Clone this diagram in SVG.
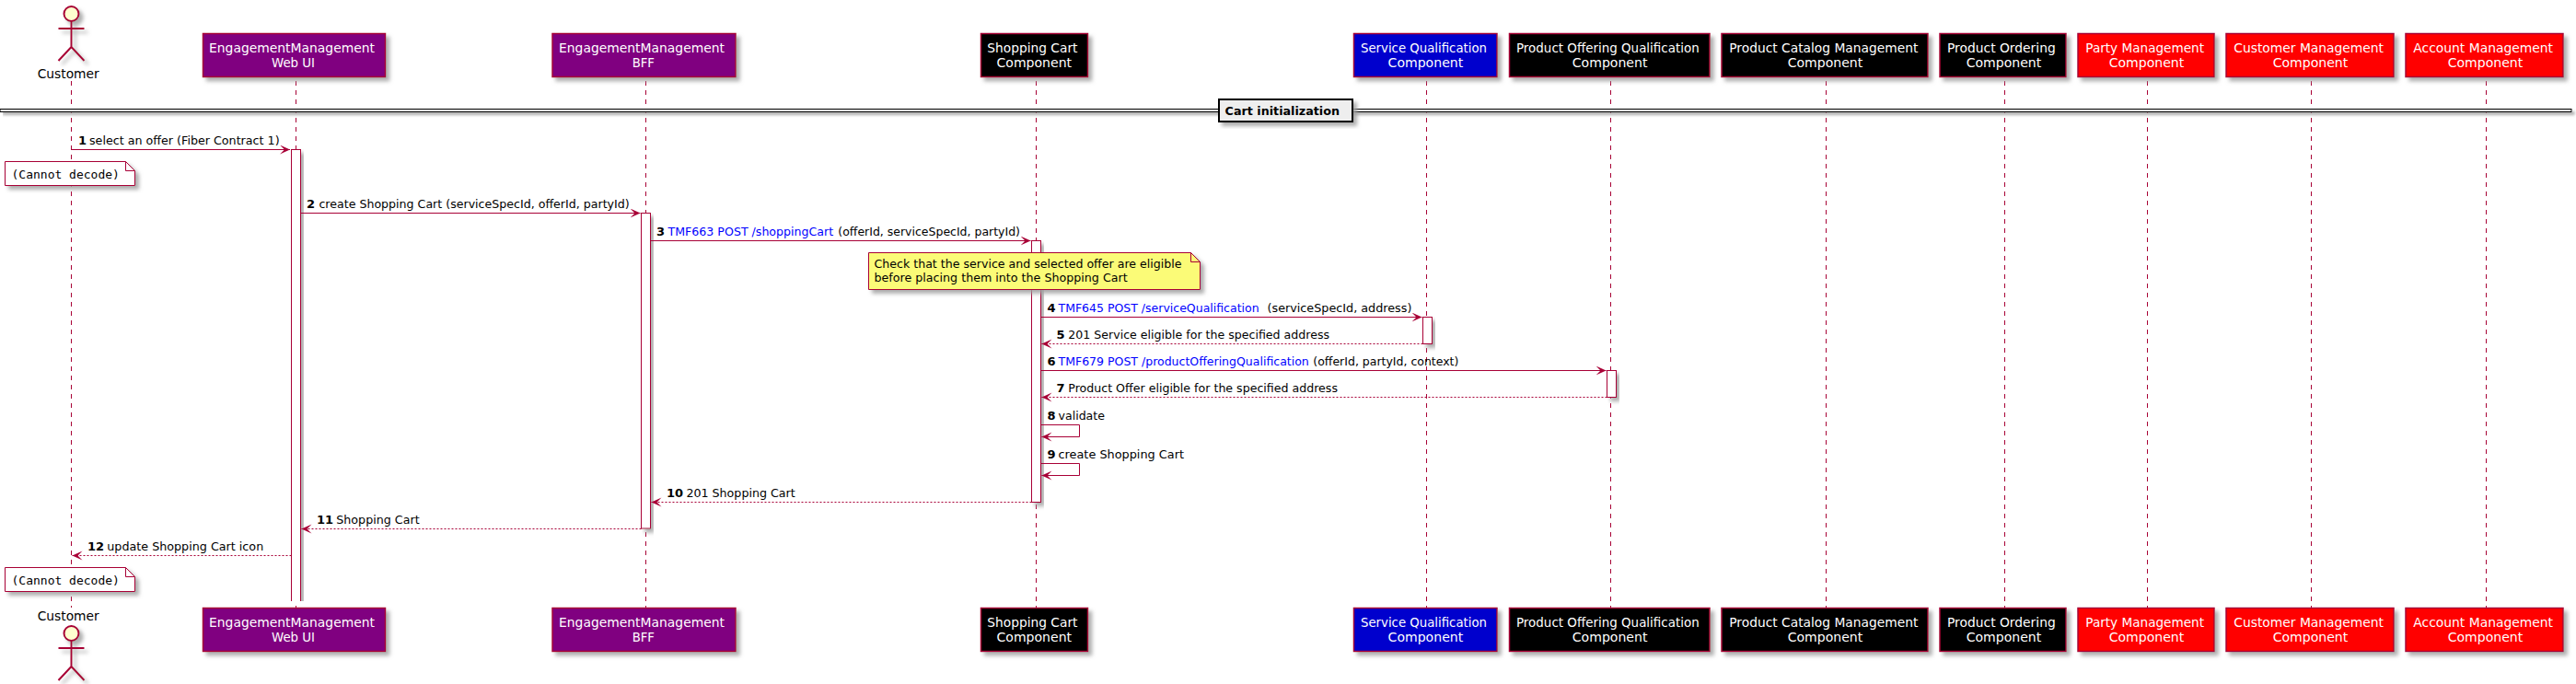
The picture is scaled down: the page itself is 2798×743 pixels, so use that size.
<svg xmlns="http://www.w3.org/2000/svg" width="2798" height="743" viewBox="0 0 2798 743">
<style>
text{font-family:"DejaVu Sans",sans-serif;font-size:13px;fill:#000}
.p{font-size:14px;fill:#fff}
.c{font-size:14px}
.b{font-weight:bold}
.l{fill:#0000ff}
.m{font-family:"DejaVu Sans Mono",monospace}
.ll{stroke:#A80036;stroke-width:1;stroke-dasharray:5,5;fill:none}
.box{stroke:#A80036;stroke-width:1.5;filter:url(#s)}
.nt{stroke:#A80036;stroke-width:1;filter:url(#s)}
.act{fill:#fff;stroke:#A80036;stroke-width:1;filter:url(#s)}
.a{stroke:#A80036;stroke-width:1;fill:none;marker-end:url(#ah)}
.r{stroke-dasharray:2,2}
.fig{fill:none;stroke:#A80036;stroke-width:2}
</style>
<defs>
<filter id="s" x="-30%" y="-30%" width="160%" height="160%"><feGaussianBlur in="SourceAlpha" stdDeviation="2" result="b"/><feOffset in="b" dx="4" dy="4" result="o"/><feColorMatrix in="o" type="matrix" values="0 0 0 0 0.35 0 0 0 0 0.35 0 0 0 0 0.35 0 0 0 0.85 0" result="c"/><feBlend in="SourceGraphic" in2="c" mode="normal"/></filter>
<filter id="sd" filterUnits="userSpaceOnUse" x="0" y="100" width="2798" height="40"><feGaussianBlur in="SourceAlpha" stdDeviation="1.5" result="b"/><feOffset in="b" dx="3" dy="3" result="o"/><feColorMatrix in="o" type="matrix" values="0 0 0 0 0.35 0 0 0 0 0.35 0 0 0 0 0.35 0 0 0 0.85 0" result="c"/><feBlend in="SourceGraphic" in2="c" mode="normal"/></filter>
<clipPath id="cut"><rect x="300" y="150" width="50" height="503"/></clipPath>
<marker id="ah" markerUnits="userSpaceOnUse" markerWidth="14" markerHeight="12" refX="11" refY="5" orient="auto"><path d="M0,0L11,5L0,10L5,5Z" fill="#A80036"/></marker>
</defs>
<g id="lifelines">
<path class="ll" d="M77.5,88V660M321.5,88V660M701.5,88V660M1125.5,88V660M1549.5,88V660M1749.5,88V660M1983.5,88V660M2177.5,88V660M2332.5,88V660M2510.5,88V660M2700.5,88V660"/>
</g>
<g id="divider">
<rect x="0" y="118.5" width="2793" height="3" fill="#EEEEEE" stroke="#000" stroke-width="1" filter="url(#sd)"/>
<rect x="1324" y="108" width="145" height="24" fill="#EEEEEE" stroke="#000" stroke-width="2" filter="url(#s)"/>
<text class="b" x="1330.6" y="125" textLength="124.4" lengthAdjust="spacingAndGlyphs">Cart initialization</text>
</g>
<g id="activations">
<g clip-path="url(#cut)"><rect class="act" x="316.5" y="162.5" width="10" height="500"/></g>
<rect class="act" x="696.5" y="231.5" width="10" height="342.5"/>
<rect class="act" x="1120.5" y="261.5" width="10" height="284"/>
<rect class="act" x="1545.5" y="344.5" width="10" height="29"/>
<rect class="act" x="1745.5" y="402.5" width="10" height="29"/>
</g>
<g id="connectors">
<path class="a" d="M77.5,162.5H315"/>
<path class="a" d="M326.5,231.5H695.5"/>
<path class="a" d="M706.5,261.5H1119.5"/>
<path class="a" d="M1130.5,344.5H1544.5"/>
<path class="a r" d="M1545.5,373.5H1131.5"/>
<path class="a" d="M1130.5,402.5H1744.5"/>
<path class="a r" d="M1745.5,431.5H1131.5"/>
<path class="a" d="M1130.5,461.5H1172.5V474.5H1131.5"/>
<path class="a" d="M1130.5,503.5H1172.5V516.5H1131.5"/>
<path class="a r" d="M1120.5,545.5H707.5"/>
<path class="a r" d="M696.5,574.5H327.5"/>
<path class="a r" d="M316.5,603.5H78.5"/>
</g>
<g id="labels">
<text y="157"><tspan class="b" x="85">1</tspan><tspan x="97" textLength="206.6" lengthAdjust="spacingAndGlyphs">select an offer (Fiber Contract 1)</tspan></text>
<text y="226"><tspan class="b" x="333">2</tspan><tspan x="346.4" textLength="337.3" lengthAdjust="spacingAndGlyphs">create Shopping Cart (serviceSpecId, offerId, partyId)</tspan></text>
<text y="256"><tspan class="b" x="713">3</tspan><tspan class="l" x="725.5" textLength="179.7" lengthAdjust="spacingAndGlyphs">TMF663 POST /shoppingCart</tspan><tspan x="910.3" textLength="197.7" lengthAdjust="spacingAndGlyphs">(offerId, serviceSpecId, partyId)</tspan></text>
<text y="339"><tspan class="b" x="1137.5">4</tspan><tspan class="l" x="1149.5" textLength="218.1" lengthAdjust="spacingAndGlyphs">TMF645 POST /serviceQualification</tspan><tspan x="1376.5" textLength="156.9" lengthAdjust="spacingAndGlyphs">(serviceSpecId, address)</tspan></text>
<text y="368"><tspan class="b" x="1147.5">5</tspan><tspan x="1160.3" textLength="283.7" lengthAdjust="spacingAndGlyphs">201 Service eligible for the specified address</tspan></text>
<text y="397"><tspan class="b" x="1137.5">6</tspan><tspan class="l" x="1149.5" textLength="272.3" lengthAdjust="spacingAndGlyphs">TMF679 POST /productOfferingQualification</tspan><tspan x="1426.3" textLength="158.1" lengthAdjust="spacingAndGlyphs">(offerId, partyId, context)</tspan></text>
<text y="426"><tspan class="b" x="1147.5">7</tspan><tspan x="1160.3" textLength="292.7" lengthAdjust="spacingAndGlyphs">Product Offer eligible for the specified address</tspan></text>
<text y="456"><tspan class="b" x="1137.5">8</tspan><tspan x="1149.5" textLength="50.5" lengthAdjust="spacingAndGlyphs">validate</tspan></text>
<text y="498"><tspan class="b" x="1137.5">9</tspan><tspan x="1149.5" textLength="136.5" lengthAdjust="spacingAndGlyphs">create Shopping Cart</tspan></text>
<text y="540"><tspan class="b" x="724">10</tspan><tspan x="745.4" textLength="118.4" lengthAdjust="spacingAndGlyphs">201 Shopping Cart</tspan></text>
<text y="569"><tspan class="b" x="344">11</tspan><tspan x="365.3" textLength="90.3" lengthAdjust="spacingAndGlyphs">Shopping Cart</tspan></text>
<text y="598"><tspan class="b" x="95">12</tspan><tspan x="116.3" textLength="169.9" lengthAdjust="spacingAndGlyphs">update Shopping Cart icon</tspan></text>
</g>
<g id="note1">
<path class="nt" fill="#fff" d="M5.5,175.5H136.5L146.5,185.5V201.5H5.5Z"/><path d="M136.5,175.5V185.5H146.5" fill="none" stroke="#A80036"/>
<text class="m" x="12.5" y="194">(Cannot decode)</text>
</g>
<g id="note2">
<path class="nt" fill="#FBFB77" d="M943.5,274.5H1293.5L1303.5,284.5V314.5H943.5Z"/><path d="M1293.5,274.5V284.5H1303.5" fill="none" stroke="#A80036"/>
<text x="949.5" y="291" textLength="334" lengthAdjust="spacingAndGlyphs">Check that the service and selected offer are eligible</text>
<text x="949.5" y="306" textLength="275.2" lengthAdjust="spacingAndGlyphs">before placing them into the Shopping Cart</text>
</g>
<g id="note3">
<path class="nt" fill="#fff" d="M5.5,616.5H136.5L146.5,626.5V642.5H5.5Z"/><path d="M136.5,616.5V626.5H146.5" fill="none" stroke="#A80036"/>
<text class="m" x="12.5" y="635">(Cannot decode)</text>
</g>
<g id="customer-top">
<g filter="url(#s)"><circle cx="77.5" cy="15" r="8" fill="#FEFECE" stroke="#A80036" stroke-width="2"/><path class="fig" d="M77.5,23V51M63.5,31H91.5M77.5,51L63.5,66M77.5,51L91.5,66"/></g>
<text class="c" x="40.7" y="85" textLength="67" lengthAdjust="spacingAndGlyphs">Customer</text>
</g>
<g id="customer-bottom">
<g filter="url(#s)"><circle cx="77.5" cy="688" r="8" fill="#FEFECE" stroke="#A80036" stroke-width="2"/><path class="fig" d="M77.5,696V724M63.5,704H91.5M77.5,724L63.5,739M77.5,724L91.5,739"/></g>
<text class="c" x="40.7" y="674" textLength="67" lengthAdjust="spacingAndGlyphs">Customer</text>
</g>
<g id="webui-top"><rect class="box" fill="#800080" x="220.5" y="36.5" width="198" height="47"/><text class="p" x="227" y="57" textLength="180" lengthAdjust="spacingAndGlyphs">EngagementManagement</text><text class="p" x="295" y="73" textLength="47" lengthAdjust="spacingAndGlyphs">Web UI</text></g>
<g id="bff-top"><rect class="box" fill="#800080" x="600" y="36.5" width="199" height="47"/><text class="p" x="607" y="57" textLength="180" lengthAdjust="spacingAndGlyphs">EngagementManagement</text><text class="p" x="686.7" y="73" textLength="24.3" lengthAdjust="spacingAndGlyphs">BFF</text></g>
<g id="cart-top"><rect class="box" fill="#000" x="1065.5" y="36.5" width="116" height="47"/><text class="p" x="1072.3" y="57" textLength="98.2" lengthAdjust="spacingAndGlyphs">Shopping Cart</text><text class="p" x="1082.5" y="73" textLength="81.6" lengthAdjust="spacingAndGlyphs">Component</text></g>
<g id="sq-top"><rect class="box" fill="#0000CD" x="1470.5" y="36.5" width="155.5" height="47"/><text class="p" x="1478" y="57" textLength="137" lengthAdjust="spacingAndGlyphs">Service Qualification</text><text class="p" x="1507.6" y="73" textLength="81.6" lengthAdjust="spacingAndGlyphs">Component</text></g>
<g id="poq-top"><rect class="box" fill="#000" x="1639.5" y="36.5" width="217.5" height="47"/><text class="p" x="1647" y="57" textLength="198.7" lengthAdjust="spacingAndGlyphs">Product Offering Qualification</text><text class="p" x="1707.8" y="73" textLength="81.6" lengthAdjust="spacingAndGlyphs">Component</text></g>
<g id="catalog-top"><rect class="box" fill="#000" x="1870" y="36.5" width="224" height="47"/><text class="p" x="1878.3" y="57" textLength="205" lengthAdjust="spacingAndGlyphs">Product Catalog Management</text><text class="p" x="1941.7" y="73" textLength="81.6" lengthAdjust="spacingAndGlyphs">Component</text></g>
<g id="ordering-top"><rect class="box" fill="#000" x="2107" y="36.5" width="137" height="47"/><text class="p" x="2115" y="57" textLength="117.7" lengthAdjust="spacingAndGlyphs">Product Ordering</text><text class="p" x="2135.7" y="73" textLength="81.6" lengthAdjust="spacingAndGlyphs">Component</text></g>
<g id="party-top"><rect class="box" fill="#f00" x="2257" y="36.5" width="148" height="47"/><text class="p" x="2265.3" y="57" textLength="128.7" lengthAdjust="spacingAndGlyphs">Party Management</text><text class="p" x="2290.7" y="73" textLength="81.6" lengthAdjust="spacingAndGlyphs">Component</text></g>
<g id="customermgmt-top"><rect class="box" fill="#f00" x="2418" y="36.5" width="182" height="47"/><text class="p" x="2426.3" y="57" textLength="162.7" lengthAdjust="spacingAndGlyphs">Customer Management</text><text class="p" x="2468.7" y="73" textLength="81.6" lengthAdjust="spacingAndGlyphs">Component</text></g>
<g id="account-top"><rect class="box" fill="#f00" x="2613" y="36.5" width="171" height="47"/><text class="p" x="2621.3" y="57" textLength="151.7" lengthAdjust="spacingAndGlyphs">Account Management</text><text class="p" x="2658.7" y="73" textLength="81.6" lengthAdjust="spacingAndGlyphs">Component</text></g>
<g id="webui-bottom"><rect class="box" fill="#800080" x="220.5" y="660.5" width="198" height="47"/><text class="p" x="227" y="681" textLength="180" lengthAdjust="spacingAndGlyphs">EngagementManagement</text><text class="p" x="295" y="697" textLength="47" lengthAdjust="spacingAndGlyphs">Web UI</text></g>
<g id="bff-bottom"><rect class="box" fill="#800080" x="600" y="660.5" width="199" height="47"/><text class="p" x="607" y="681" textLength="180" lengthAdjust="spacingAndGlyphs">EngagementManagement</text><text class="p" x="686.7" y="697" textLength="24.3" lengthAdjust="spacingAndGlyphs">BFF</text></g>
<g id="cart-bottom"><rect class="box" fill="#000" x="1065.5" y="660.5" width="116" height="47"/><text class="p" x="1072.3" y="681" textLength="98.2" lengthAdjust="spacingAndGlyphs">Shopping Cart</text><text class="p" x="1082.5" y="697" textLength="81.6" lengthAdjust="spacingAndGlyphs">Component</text></g>
<g id="sq-bottom"><rect class="box" fill="#0000CD" x="1470.5" y="660.5" width="155.5" height="47"/><text class="p" x="1478" y="681" textLength="137" lengthAdjust="spacingAndGlyphs">Service Qualification</text><text class="p" x="1507.6" y="697" textLength="81.6" lengthAdjust="spacingAndGlyphs">Component</text></g>
<g id="poq-bottom"><rect class="box" fill="#000" x="1639.5" y="660.5" width="217.5" height="47"/><text class="p" x="1647" y="681" textLength="198.7" lengthAdjust="spacingAndGlyphs">Product Offering Qualification</text><text class="p" x="1707.8" y="697" textLength="81.6" lengthAdjust="spacingAndGlyphs">Component</text></g>
<g id="catalog-bottom"><rect class="box" fill="#000" x="1870" y="660.5" width="224" height="47"/><text class="p" x="1878.3" y="681" textLength="205" lengthAdjust="spacingAndGlyphs">Product Catalog Management</text><text class="p" x="1941.7" y="697" textLength="81.6" lengthAdjust="spacingAndGlyphs">Component</text></g>
<g id="ordering-bottom"><rect class="box" fill="#000" x="2107" y="660.5" width="137" height="47"/><text class="p" x="2115" y="681" textLength="117.7" lengthAdjust="spacingAndGlyphs">Product Ordering</text><text class="p" x="2135.7" y="697" textLength="81.6" lengthAdjust="spacingAndGlyphs">Component</text></g>
<g id="party-bottom"><rect class="box" fill="#f00" x="2257" y="660.5" width="148" height="47"/><text class="p" x="2265.3" y="681" textLength="128.7" lengthAdjust="spacingAndGlyphs">Party Management</text><text class="p" x="2290.7" y="697" textLength="81.6" lengthAdjust="spacingAndGlyphs">Component</text></g>
<g id="customermgmt-bottom"><rect class="box" fill="#f00" x="2418" y="660.5" width="182" height="47"/><text class="p" x="2426.3" y="681" textLength="162.7" lengthAdjust="spacingAndGlyphs">Customer Management</text><text class="p" x="2468.7" y="697" textLength="81.6" lengthAdjust="spacingAndGlyphs">Component</text></g>
<g id="account-bottom"><rect class="box" fill="#f00" x="2613" y="660.5" width="171" height="47"/><text class="p" x="2621.3" y="681" textLength="151.7" lengthAdjust="spacingAndGlyphs">Account Management</text><text class="p" x="2658.7" y="697" textLength="81.6" lengthAdjust="spacingAndGlyphs">Component</text></g>
</svg>
